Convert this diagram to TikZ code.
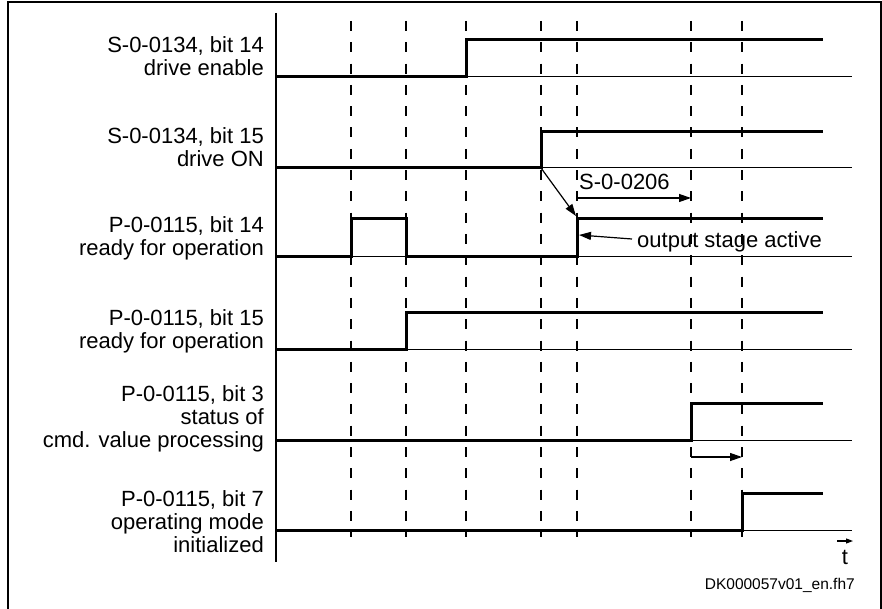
\documentclass[tikz,border=0pt]{standalone}
\usepackage{fontspec}
\setmainfont{Liberation Sans}
\usetikzlibrary{arrows.meta}
\begin{document}
\begin{tikzpicture}[x=1pt,y=-1pt,
  frameline/.style={line width=2pt},
  axisline/.style={line width=1.1pt},
  baseline/.style={line width=1pt},
  signal/.style={line width=3pt,line join=miter,line cap=butt},
  gridline/.style={line width=1.3pt,dash pattern=on 10pt off 11.3pt},
  lbl/.style={font=\fontsize{22}{23}\selectfont,align=right,inner sep=0pt,anchor=base east},
  note/.style={font=\fontsize{22}{23}\selectfont,inner sep=0pt,anchor=base west},
  pointer/.style={line width=1.2pt,-{Triangle[length=12pt,width=8pt]}}]
\useasboundingbox (0,0) rectangle (882,609);
% outer frame
\draw[frameline] (8,612) -- (8,2) -- (880.5,2) -- (880.5,612);
% time axis
\draw[axisline] (276,13) -- (276,562);
% dashed time markers
\foreach \x in {351,406,466,541,577,691,742}
  \draw[gridline] (\x,21) -- (\x,537);
% thin zero lines
\foreach \y in {77,168,257,349,440,530}
  \draw[baseline] (276,\y) -- (852,\y);
% signal traces
\draw[signal] (276,77) -- (466,77) -- (466,40) -- (823,40);
\draw[signal] (276,168) -- (541,168) -- (541,131.5) -- (823,131.5);
\draw[signal] (276,257) -- (351,257) -- (351,219) -- (406,219) -- (406,257) -- (577,257) -- (577,219) -- (823,219);
\draw[signal] (276,349) -- (406,349) -- (406,312) -- (823,312);
\draw[signal] (276,440) -- (691,440) -- (691,403) -- (823,403);
\draw[signal] (276,530) -- (742,530) -- (742,493) -- (823,493);
% signal names (anchored at the baseline of the last line)
\node[lbl] (l1) at (264,76) {S-0-0134, bit 14\\drive enable};
\node[lbl] (l2) at (264,167) {S-0-0134, bit 15\\drive ON};
\node[lbl] (l3) at (264,256) {P-0-0115, bit 14\\ready for operation};
\node[lbl] (l4) at (264,348) {P-0-0115, bit 15\\ready for operation};
\node[lbl] (l5) at (264,447) {P-0-0115, bit 3\\status of\\cmd. value processing};
\node[lbl] (l6) at (264,552) {P-0-0115, bit 7\\operating mode\\initialized};
% annotations
\coordinate (onedge) at (541,168);
\coordinate (stagetop) at (576,216);
\draw[pointer] (onedge) -- (stagetop);
\node[note] (delay) at (579,190) {S-0-0206};
\coordinate (d0) at (577,198);
\coordinate (d1) at (691,198);
\draw[pointer] (d0) -- (d1);
\node[note] (stage) at (637,248) {output stage active};
\coordinate (stageout) at (632,239);
\coordinate (stagein) at (579,235);
\draw[pointer] (stageout) -- (stagein);
\coordinate (m0) at (691,457);
\coordinate (m1) at (742,457);
\draw[pointer] (m0) -- (m1);
% time label
\node[font=\fontsize{22}{23}\selectfont,inner sep=0pt,anchor=base] (t) at (845,564) {t};
\coordinate (t0) at (837,541);
\coordinate (t1) at (853,541);
\draw[line width=1.1pt,-{Triangle[length=7pt,width=5pt]}] (t0) -- (t1);
% drawing number
\node[font=\fontsize{15.5}{17}\selectfont,inner sep=0pt,anchor=base east] (dk) at (855,589) {DK000057v01\_en.fh7};
\end{tikzpicture}
\end{document}
